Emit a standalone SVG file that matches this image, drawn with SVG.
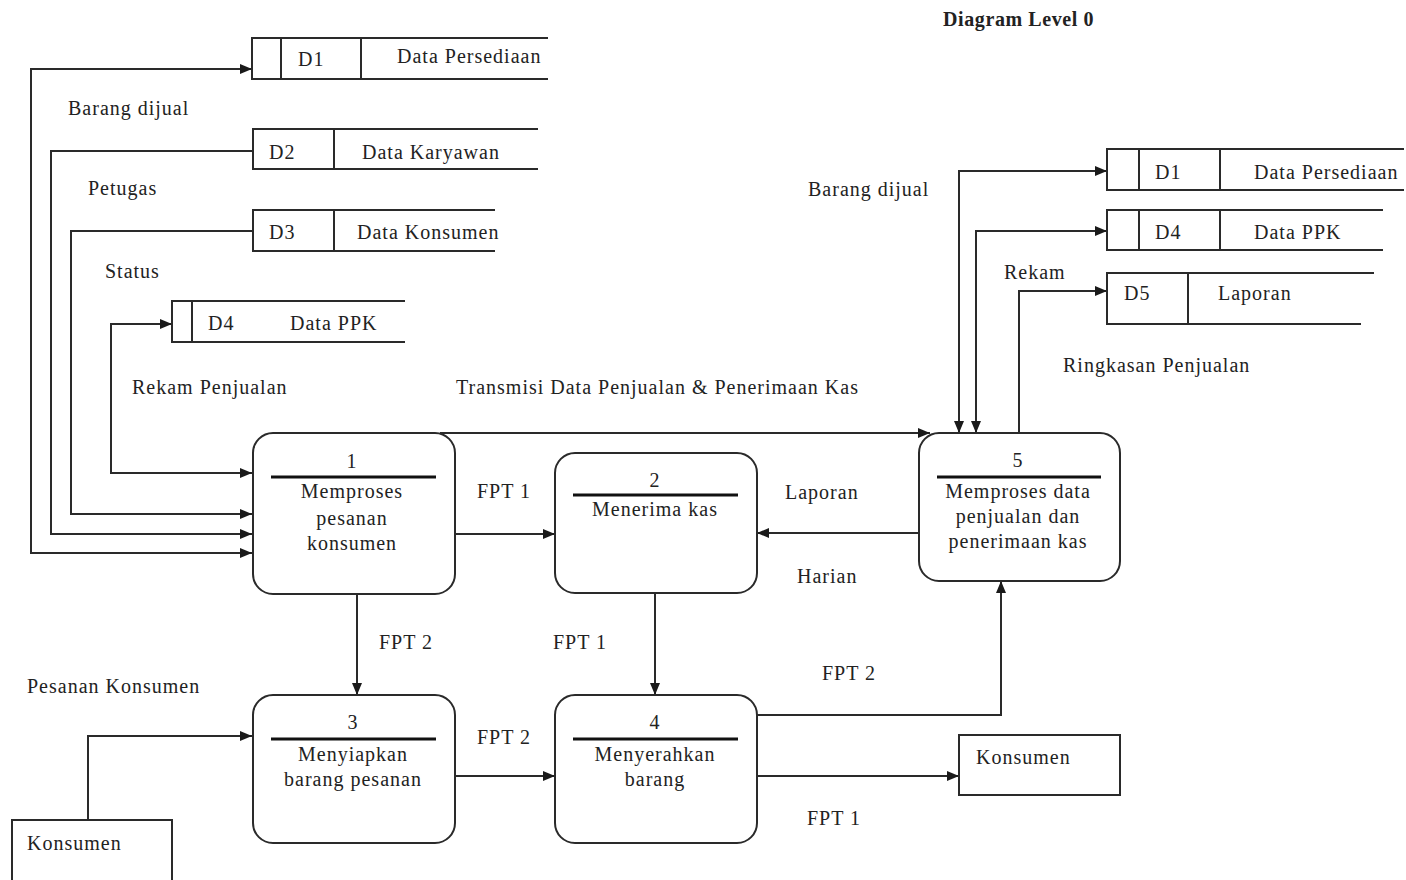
<svg xmlns="http://www.w3.org/2000/svg" width="1406" height="880" viewBox="0 0 1406 880">
<defs>
<marker id="ah" viewBox="0 0 12 10" refX="12" refY="5" markerWidth="12" markerHeight="10" markerUnits="userSpaceOnUse" orient="auto-start-reverse">
<path d="M0,0 L12,5 L0,10 z" fill="#1a1a1a"/>
</marker>
<style>
text{font-family:"Liberation Serif","Times New Roman",serif;font-size:20px;fill:#222;letter-spacing:1px}
.c{text-anchor:middle}
.t{font-weight:bold;font-size:20px;letter-spacing:0.6px}
.ln{fill:none;stroke:#2a2a2a;stroke-width:2}
.ar{marker-end:url(#ah)}
.bi{marker-start:url(#ah);marker-end:url(#ah)}
.proc{fill:#fff;stroke:#2a2a2a;stroke-width:2}
.div{stroke:#111;stroke-width:3}
.st{fill:none;stroke:#2a2a2a;stroke-width:2}
.ent{fill:#fff;stroke:#2a2a2a;stroke-width:2}
</style>
</defs>
<rect width="1406" height="880" fill="#fff"/>
<text class="t" x="943" y="26">Diagram Level 0</text>

<g id="connectors">
<path class="ln bi" d="M252,553 H31 V69 H252"/>
<path class="ln ar" d="M253,151 H51 V534 H252"/>
<path class="ln ar" d="M253,231 H71 V514 H252"/>
<path class="ln bi" d="M172,324 H111 V473 H252"/>
<path class="ln ar" d="M440,433 H930"/>
<path class="ln ar" d="M455,534 H555"/>
<path class="ln ar" d="M357,594 V695"/>
<path class="ln ar" d="M655,593 V695"/>
<path class="ln ar" d="M919,533 H757"/>
<path class="ln ar" d="M455,776 H555"/>
<path class="ln ar" d="M757,776 H959"/>
<path class="ln ar" d="M757,715 H1001 V581"/>
<path class="ln ar" d="M88,820 V736 H252"/>
<path class="ln bi" d="M959,433 V171 H1107"/>
<path class="ln bi" d="M976,433 V231 H1107"/>
<path class="ln ar" d="M1019,433 V291 H1107"/>
<text x="68" y="115">Barang dijual</text>
<text x="88" y="195">Petugas</text>
<text x="105" y="278">Status</text>
<text x="132" y="394">Rekam Penjualan</text>
<text x="456" y="394">Transmisi Data Penjualan &amp; Penerimaan Kas</text>
<text x="808" y="196">Barang dijual</text>
<text x="1004" y="279">Rekam</text>
<text x="1063" y="372">Ringkasan Penjualan</text>
<text x="477" y="498">FPT 1</text>
<text x="785" y="499">Laporan</text>
<text x="797" y="583">Harian</text>
<text x="379" y="649">FPT 2</text>
<text x="553" y="649">FPT 1</text>
<text x="822" y="680">FPT 2</text>
<text x="477" y="744">FPT 2</text>
<text x="807" y="825">FPT 1</text>
<text x="27" y="693">Pesanan Konsumen</text>
</g>

<g id="ds-d1-left">
<path class="st" d="M548,38 H252 V79 H548 M281,38 V79 M361,38 V79"/>
<text x="298" y="66">D1</text>
<text x="397" y="63">Data Persediaan</text>
</g>
<g id="ds-d2">
<path class="st" d="M538,129 H253 V169 H538 M334,129 V169"/>
<text x="269" y="159">D2</text>
<text x="362" y="159">Data Karyawan</text>
</g>
<g id="ds-d3">
<path class="st" d="M495,210 H253 V251 H495 M334,210 V251"/>
<text x="269" y="239">D3</text>
<text x="357" y="239">Data Konsumen</text>
</g>
<g id="ds-d4-left">
<path class="st" d="M405,301 H172 V342 H405 M192,301 V342"/>
<text x="208" y="330">D4</text>
<text x="290" y="330">Data PPK</text>
</g>
<g id="ds-d1-right">
<path class="st" d="M1404,149 H1107 V190 H1404 M1139,149 V190 M1220,149 V190"/>
<text x="1155" y="179">D1</text>
<text x="1254" y="179">Data Persediaan</text>
</g>
<g id="ds-d4-right">
<path class="st" d="M1383,210 H1107 V250 H1383 M1139,210 V250 M1220,210 V250"/>
<text x="1155" y="239">D4</text>
<text x="1254" y="239">Data PPK</text>
</g>
<g id="ds-d5">
<path class="st" d="M1374,273 H1107 V324 H1361 M1188,273 V324"/>
<text x="1124" y="300">D5</text>
<text x="1218" y="300">Laporan</text>
</g>

<g id="p1">
<rect class="proc" x="253" y="433" width="202" height="161" rx="20"/>
<line class="div" x1="271" y1="477" x2="436" y2="477"/>
<text class="c" x="352" y="468">1</text>
<text class="c" x="352" y="498">Memproses</text>
<text class="c" x="352" y="525">pesanan</text>
<text class="c" x="352" y="550">konsumen</text>
</g>
<g id="p2">
<rect class="proc" x="555" y="453" width="202" height="140" rx="20"/>
<line class="div" x1="573" y1="495" x2="738" y2="495"/>
<text class="c" x="655" y="487">2</text>
<text class="c" x="655" y="516">Menerima kas</text>
</g>
<g id="p5">
<rect class="proc" x="919" y="433" width="201" height="148" rx="20"/>
<line class="div" x1="937" y1="477" x2="1101" y2="477"/>
<text class="c" x="1018" y="467">5</text>
<text class="c" x="1018" y="498">Memproses data</text>
<text class="c" x="1018" y="523">penjualan dan</text>
<text class="c" x="1018" y="548">penerimaan kas</text>
</g>
<g id="p3">
<rect class="proc" x="253" y="695" width="202" height="148" rx="20"/>
<line class="div" x1="271" y1="739" x2="436" y2="739"/>
<text class="c" x="353" y="729">3</text>
<text class="c" x="353" y="761">Menyiapkan</text>
<text class="c" x="353" y="786">barang pesanan</text>
</g>
<g id="p4">
<rect class="proc" x="555" y="695" width="202" height="148" rx="20"/>
<line class="div" x1="573" y1="739" x2="738" y2="739"/>
<text class="c" x="655" y="729">4</text>
<text class="c" x="655" y="761">Menyerahkan</text>
<text class="c" x="655" y="786">barang</text>
</g>
<g id="konsumen-left">
<rect class="ent" x="12" y="820" width="160" height="70"/>
<text x="27" y="850">Konsumen</text>
</g>
<g id="konsumen-right">
<rect class="ent" x="959" y="735" width="161" height="60"/>
<text x="976" y="764">Konsumen</text>
</g>
</svg>
